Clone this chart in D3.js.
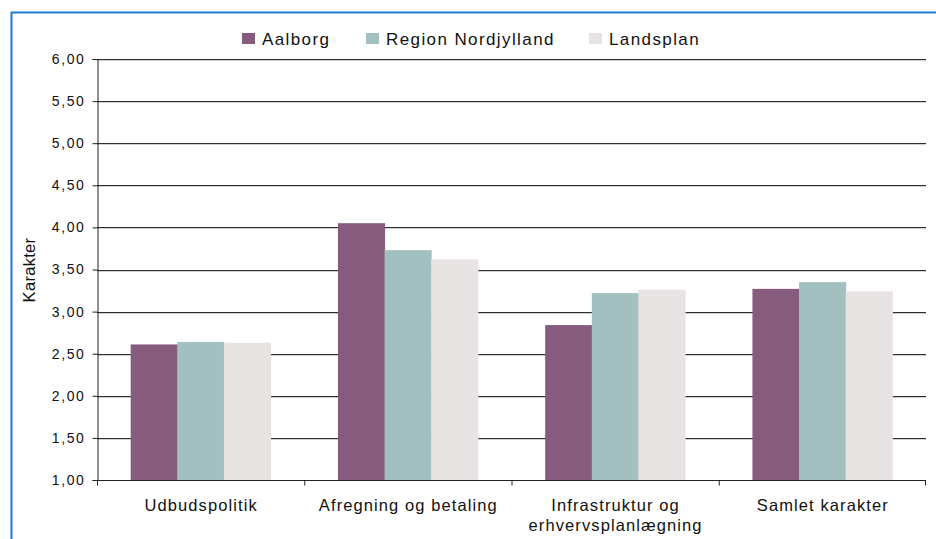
<!DOCTYPE html>
<html><head><meta charset="utf-8">
<script src="https://cdn.jsdelivr.net/npm/d3@7"></script>
<style>body{margin:0;background:#fff}svg{display:block;font-family:"Liberation Sans",Arial,sans-serif}</style>
</head><body><svg id="c" width="936" height="539"></svg>
<script>
const categories = [["Udbudspolitik"],["Afregning og betaling"],["Infrastruktur og","erhvervsplanlægning"],["Samlet karakter"]];
const seriesNames = ["Aalborg","Region Nordjylland","Landsplan"];
const aalborg = [2.61, 4.05, 2.84, 3.27];
const region = [2.64, 3.73, 3.22, 3.35];
const landsplan = [2.63, 3.62, 3.26, 3.24];
const yTicks = [1,1.5,2,2.5,3,3.5,4,4.5,5,5.5,6];
const colors = ["#875B7E","#A3C0C1","#E7E3E2"];

const svg = d3.select("#c");
// frame
svg.append("path").attr("d","M11.5,539 V12.5 H936").attr("fill","none").attr("stroke","#1f7fcf").attr("stroke-width",2);

const L=97, R=926, T=59, B=480;
const x = d3.scaleBand().domain(d3.range(categories.length)).range([L,R]).paddingInner(0.325).paddingOuter(0.1625);
const x0 = d3.scaleBand().domain(d3.range(categories.length)).range([L,R]);
const xs = d3.scaleBand().domain(seriesNames).range([0,x.bandwidth()]);
const y = d3.scaleLinear().domain([1,6]).range([B,T]);

// gridlines
svg.append("g").selectAll("line").data(yTicks.slice(1)).join("line")
  .attr("x1",L).attr("x2",R).attr("y1",d=>Math.round(y(d))+0.5).attr("y2",d=>Math.round(y(d))+0.5)
  .attr("stroke","#2e2e2e").attr("stroke-width",1);
svg.append("g").selectAll("line").data(yTicks.slice(1)).join("line")
  .attr("x1",L).attr("x2",R).attr("y1",d=>Math.round(y(d))+1.5).attr("y2",d=>Math.round(y(d))+1.5)
  .attr("stroke","#d0d0d0").attr("stroke-width",1);

// bars
const series = [aalborg, region, landsplan];
series.forEach((vals,si)=>{
  svg.append("g").selectAll("rect").data(vals).join("rect")
    .attr("x",(d,i)=>x(i)+xs(seriesNames[si]))
    .attr("width",xs.bandwidth()+0.5)
    .attr("y",d=>y(d)).attr("height",d=>B-y(d))
    .attr("fill",colors[si]);
});

// y axis
const ya = svg.append("g").attr("transform",`translate(${L+0.5},0)`)
  .call(d3.axisLeft(y).tickValues(yTicks).tickSize(5).tickPadding(7).tickFormat(d=>d.toFixed(2).replace(".",",")));
ya.select(".domain").attr("stroke","#222");
ya.selectAll(".tick line").attr("stroke","#222");
ya.selectAll("text").attr("font-size",14).attr("letter-spacing","1.6px").attr("fill","#111")
  .attr("font-family","Liberation Sans, Arial, sans-serif");

// x axis
const xa = svg.append("g").attr("transform",`translate(0,${B+0.5})`);
xa.append("line").attr("x1",L).attr("x2",R).attr("stroke","#222");
xa.selectAll("line.t").data(d3.range(categories.length+1)).join("line").attr("class","t")
  .attr("x1",i=>i<categories.length?x0(i)+0.5:R-0.5).attr("x2",i=>i<categories.length?x0(i)+0.5:R-0.5)
  .attr("y1",0).attr("y2",5).attr("stroke","#222");
categories.forEach((lines,i)=>{
  const cx = x0(i)+x0.bandwidth()/2 + 0.5;
  const t = svg.append("text").attr("x",cx).attr("y",511)
    .attr("text-anchor","middle").attr("font-size",16.5).attr("letter-spacing","1.1px").attr("fill","#111");
  lines.forEach((s,j)=>t.append("tspan").attr("x",cx).attr("dy",j?20:0).text(s));
});

// y title
svg.append("text").attr("transform","translate(35,270) rotate(-90)").attr("text-anchor","middle")
  .attr("font-size",16.5).attr("letter-spacing","0.3px").attr("fill","#111").text("Karakter");

// legend
const legX = [242, 366, 589];
seriesNames.forEach((n,i)=>{
  svg.append("rect").attr("x",legX[i]).attr("y",33).attr("width",13).attr("height",11).attr("fill",colors[i]);
  svg.append("text").attr("x",legX[i]+20).attr("y",44.5).attr("font-size",17).attr("letter-spacing","1.4px").attr("fill","#111").text(n);
});
</script></body></html>
